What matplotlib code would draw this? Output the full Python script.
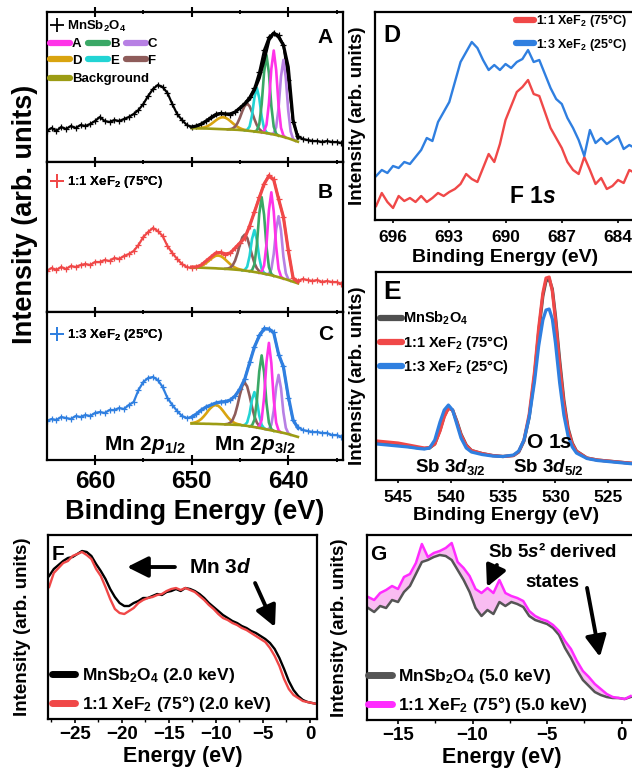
import numpy as np
import matplotlib
matplotlib.use("Agg")
import matplotlib.pyplot as plt
from matplotlib.lines import Line2D

plt.rcParams["font.family"] = ["Liberation Sans", "DejaVu Sans"]
plt.rcParams["font.weight"] = "bold"
plt.rcParams["axes.labelweight"] = "bold"
plt.rcParams["mathtext.fontset"] = "custom"
plt.rcParams["mathtext.rm"] = "Liberation Sans:bold"
plt.rcParams["mathtext.bf"] = "Liberation Sans:bold"
plt.rcParams["mathtext.it"] = "Liberation Sans:italic:bold"
plt.rcParams["mathtext.default"] = "bf"
plt.rcParams["axes.linewidth"] = 1.6

# ---------------- Mn 2p (panels A-C), intensity in arb. units ----------------
# measured spectra, 665 eV downwards in 0.5 eV steps
a_data = [31, 34, 31, 35, 33, 36, 34, 37, 36, 38, 41, 45, 41, 40, 42, 41, 43, 45, 48, 52,
          58, 66, 73, 77, 75, 69, 58, 48, 42, 37, 35, 36, 38, 41, 45, 48, 49, 48, 47, 50,
          54, 59, 65, 74, 90, 112, 125, 129, 127, 117, 82, 40, 26, 23, 22, 21, 21, 20, 21, 20,
          20, 19]
b_data = [41, 44, 42, 45, 43, 46, 45, 47, 48, 47, 50, 50, 52, 51, 54, 53, 56, 58, 61, 67,
          75, 80, 84, 81, 76, 66, 59, 53, 48, 45, 44, 45, 47, 51, 55, 59, 60, 57, 59, 64,
          69, 74, 86, 100, 115, 128, 137, 133, 113, 95, 62, 34, 31, 33, 32, 31, 32, 30, 31, 30,
          30, 28]
c_data = [39, 41, 40, 43, 42, 41, 44, 43, 45, 44, 47, 48, 47, 50, 50, 52, 51, 55, 58, 70,
          78, 82, 83, 80, 73, 62, 55, 49, 44, 42, 43, 46, 50, 53, 55, 57, 58, 58, 60, 64,
          71, 81, 98, 113, 125, 132, 131, 128, 105, 94, 62, 40, 33, 30, 29, 28, 28, 27, 27, 25,
          25, 23]

# fitted envelope, 650 eV downwards in 0.5 eV steps
a_env = [35, 36, 38, 41, 44, 47, 48.5, 48, 48, 50, 54, 58, 63, 72, 84, 102, 122, 129, 125, 117,
         95, 42, 24]
b_env = [45, 45, 47, 51, 55, 59, 59.5, 58, 59, 64, 69, 74, 86, 100, 114, 128, 136, 132, 113, 95,
         62, 34, 30]
c_env = [43, 46, 50, 53, 55, 57, 58, 58.5, 60, 64, 71, 81, 97, 113, 124, 131, 131, 127, 106, 93,
         64, 40, 32]

# Shirley background, 650 eV downwards in 0.25 eV steps
a_bg = [33.8, 33.8, 33.7, 33.7, 33.6, 33.5, 33.5, 33.4, 33.3, 33.2, 33.1, 33.0, 32.9, 32.8, 32.7,
        32.6, 32.5, 32.4, 32.3, 32.2, 32.0, 31.8, 31.6, 31.4, 31.1, 30.8, 30.5, 30.2, 29.9, 29.6,
        29.3, 28.9, 28.5, 28.0, 27.5, 27.0, 26.4, 25.8, 25.1, 24.4, 23.7, 22.9, 22.0, 21.1, 20.3]
b_bg = [44.7, 44.6, 44.5, 44.4, 44.3, 44.2, 44.1, 44.0, 43.9, 43.8, 43.7, 43.5, 43.4, 43.3, 43.1,
        43.0, 42.8, 42.6, 42.4, 42.2, 42.0, 41.7, 41.4, 41.1, 40.8, 40.4, 40.0, 39.6, 39.2, 38.8,
        38.3, 37.8, 37.3, 36.7, 36.1, 35.5, 34.8, 34.1, 33.4, 32.7, 31.9, 31.1, 30.3, 29.5, 28.7]
c_bg = [36.5, 36.5, 36.4, 36.4, 36.3, 36.3, 36.2, 36.2, 36.1, 36.0, 36.0, 35.9, 35.8, 35.7, 35.6,
        35.5, 35.4, 35.3, 35.2, 35.1, 35.0, 34.7, 34.4, 34.1, 33.7, 33.3, 32.9, 32.5, 32.0, 31.6,
        31.1, 30.6, 30.1, 29.6, 29.1, 28.6, 28.1, 27.6, 27.1, 26.5, 25.9, 25.2, 24.5, 23.8, 23.1]

# normalised peak shapes on the 0.25 eV grid
shape_narrow = [0.0, 0.017, 0.10, 0.36, 0.775, 1, 0.775, 0.36, 0.10, 0.017, 0.0]
shape_wide = [0.004, 0.014, 0.044, 0.114, 0.249, 0.458, 0.707, 0.917, 1, 0.917, 0.707, 0.458,
              0.249, 0.114, 0.044, 0.014, 0.004]
shape_broad = [0.021, 0.044, 0.085, 0.151, 0.249, 0.381, 0.54, 0.707, 0.857, 0.962, 1, 0.962,
               0.857, 0.707, 0.54, 0.381, 0.249, 0.151, 0.085, 0.044, 0.021]

# fitted components: centre (eV), height above background
a_peaks = {"A": (641.5, 84), "B": (642.25, 78), "C": (640.5, 77),
           "D": (646.75, 12), "E": (643.25, 44), "F": (644.25, 27)}
b_peaks = {"A": (641.75, 83), "B": (642.75, 76), "C": (641.0, 61),
           "D": (647.25, 13), "E": (643.5, 42), "F": (644.5, 36)}
c_peaks = {"A": (642.0, 87), "B": (642.75, 73), "C": (641.0, 57),
           "D": (647.5, 19), "E": (643.5, 35), "F": (644.5, 43)}

peak_shapes = {"A": shape_narrow, "B": shape_narrow, "C": shape_narrow,
               "D": shape_broad, "E": shape_narrow, "F": shape_wide}
peak_colors = {"A": "#ff33e8", "B": "#3aa866", "C": "#b780e4",
               "D": "#d9a40f", "E": "#22d4d4", "F": "#8e5c5a"}
bg_color = "#9c9c14"

# ---------------- F 1s (panel D) ----------------
d_be = 696.9 - 0.3 * np.arange(47)
d_red = [14, 27, 18, 12, 24, 19, 22, 18, 24, 18, 22, 27, 24, 28, 31, 36, 46, 41, 38, 52,
         66, 58, 76, 100, 114, 128, 133, 140, 126, 124, 108, 92, 82, 72, 58, 50, 46, 63, 50, 36,
         42, 31, 34, 40, 37, 50, 47]
d_blue = [44, 50, 47, 54, 52, 58, 56, 63, 70, 82, 79, 98, 108, 118, 138, 158, 168, 178, 172, 160,
          150, 155, 150, 156, 152, 158, 161, 170, 158, 160, 146, 132, 121, 116, 102, 92, 80, 64, 90, 77,
          82, 76, 80, 84, 71, 75, 72]

# ---------------- Sb 3d / O 1s (panel E) ----------------
e_be = [547.0, 546.0, 545.0, 544.0, 543.0, 542.5, 542.0, 541.5, 541.0, 540.6, 540.2, 539.8,
        539.4, 539.0, 538.5, 538.0, 537.0, 536.0, 535.0, 534.0, 533.5, 533.0, 532.5, 532.0,
        531.6, 531.2, 530.9, 530.6, 530.3, 530.0, 529.6, 529.2, 528.8, 528.4, 528.0, 527.0,
        526.0, 525.0, 524.0, 523.0, 522.4]
e_pristine = [37, 36, 35, 33.5, 32, 31.5, 32, 36, 50, 64, 72, 70, 59, 46, 35, 29.5, 26.5, 24.5,
              23.5, 24.5, 28, 39, 63, 104, 148, 184, 199, 201, 191, 164, 120, 80, 52, 37, 29, 22,
              20, 19, 18, 17, 16.5]
e_red = [39, 38, 37, 35, 33, 32, 32.5, 36, 49, 63, 72, 70, 58, 45, 34.5, 29.5, 26.5, 24.5,
         23.5, 24.5, 28.5, 40, 66, 108, 152, 187, 202, 203, 189, 160, 115, 76, 50, 36, 28.5, 22,
         20, 19, 18, 17, 16.5]
e_blue = [36, 35, 34, 33, 31.5, 31, 32, 40, 58, 70, 75, 70, 56, 42, 32, 28, 25.5, 24, 23.5,
          25, 29, 40, 63, 98, 134, 160, 170, 171, 161, 137, 97, 65, 44, 33, 27, 21.5, 19.5, 18.5,
          17.5, 16.5, 16]

# ---------------- valence band, 2.0 keV (panel F) ----------------
f_e = -27.75 + 0.5 * np.arange(58)
f_black = [143, 150, 154, 158, 161, 162, 165, 168, 167, 163, 155, 148, 140, 130, 122, 116, 113, 113,
           116, 118, 121, 121, 123, 125, 124, 127, 128, 130, 128, 131, 130, 128, 125, 121, 116, 112,
           108, 104, 101, 98, 96, 93, 91, 88, 86, 83, 80, 76, 70, 61, 50, 38, 29, 23, 19, 17, 16, 15]
f_red = [132, 146, 151, 156, 158, 163, 165, 167, 164, 160, 150, 143, 132, 120, 110, 106, 105, 108,
         111, 116, 119, 121, 122, 124, 125, 128, 130, 131, 129, 131, 129, 127, 123, 119, 114, 110,
         105, 101, 99, 96, 94, 91, 89, 86, 83, 80, 77, 71, 63, 53, 40, 30, 24, 21, 18, 17, 16, 15]

# ---------------- valence band, 5.0 keV (panel G) ----------------
g_e = -17.0 + 0.4 * np.arange(45)
g_gray = [112, 108, 114, 112, 120, 118, 128, 134, 146, 158, 160, 163, 165, 164, 160, 150, 140, 128,
          112, 104, 110, 106, 118, 114, 118, 116, 113, 104, 100, 98, 96, 92, 85, 72, 62, 50, 40, 34,
          28, 25, 23, 22, 22, 21, 23]
g_mag = [123, 120, 127, 130, 134, 131, 143, 146, 157, 176, 163, 167, 169, 172, 177, 158, 152, 144,
         131, 127, 132, 127, 140, 127, 124, 122, 119, 109, 104, 101, 99, 95, 89, 79, 71, 59, 49, 43,
         36, 31, 26, 23, 22, 21, 24]

RED = "#f04848"
BLUE = "#2f7fe0"

fig = plt.figure(figsize=(6.32, 7.70), dpi=100)

# ================= panels A, B, C =================
ax_a = fig.add_axes([0.0739, 0.7896, 0.4693, 0.1948])
ax_b = fig.add_axes([0.0739, 0.5948, 0.4693, 0.1948])
ax_c = fig.add_axes([0.0739, 0.4026, 0.4693, 0.1922])

mn_e = 665 - 0.5 * np.arange(len(a_data))
fit_e = 650 - 0.25 * np.arange(len(a_bg))
env_e = 650 - 0.5 * np.arange(len(a_env))

mn_panels = [
    (ax_a, a_data, a_env, a_bg, a_peaks, "black", "MnSb$_2$O$_4$", "A", 150, 0.907, 0.791),
    (ax_b, b_data, b_env, b_bg, b_peaks, RED, "1:1 XeF$_2$ (75°C)", "B", 150, 0.867, 0.76),
    (ax_c, c_data, c_env, c_bg, c_peaks, BLUE, "1:3 XeF$_2$ (25°C)", "C", 148, 0.845, 0.81),
]
for ax, data, env, bg, peaks, col, lab, letter, hpx, leg_y, let_y in mn_panels:
    ax.plot(mn_e, data, color=col, lw=1.6, marker="+", ms=5, mew=0.9, zorder=1)
    bg = np.array(bg)
    for name in ["D", "F", "E", "C", "B", "A"]:
        centre, height = peaks[name]
        shape = np.array(peak_shapes[name])
        ic = int(round((650 - centre) / 0.25))
        i0 = ic - len(shape) // 2
        lo, hi = max(i0, 0), min(i0 + len(shape), len(bg))
        ax.plot(fit_e[lo:hi], bg[lo:hi] + height * shape[lo - i0:hi - i0],
                color=peak_colors[name], lw=1.9, zorder=2)
    ax.plot(fit_e, bg, color=bg_color, lw=1.9, zorder=2)
    ax.plot(env_e, env, color=col, lw=2.3, zorder=3)
    ax.set_xlim(665, 634.3)
    ax.set_ylim(0, hpx)
    ax.set_yticks([])
    ax.set_xticks([660, 650, 640])
    ax.set_xticks([655, 645, 635], minor=True)
    ax.tick_params(axis="x", which="major", direction="inout", top=True, length=7, width=1.5,
                   labelsize=17.5, pad=4)
    ax.tick_params(axis="x", which="minor", direction="inout", top=True, length=3.5, width=1.3)
    leg = ax.legend(handles=[Line2D([], [], ls="none", marker="+", ms=10, mew=1.3, color=col)],
                    labels=[lab], loc="center left", bbox_to_anchor=(0.012, leg_y),
                    frameon=False, fontsize=9.5, handlelength=1.0, handletextpad=0.3,
                    borderpad=0, borderaxespad=0)
    ax.add_artist(leg)
    ax.text(0.965, let_y, letter, transform=ax.transAxes, ha="right", va="baseline",
            fontsize=15, fontweight="bold")

ax_a.tick_params(labelbottom=False)
ax_b.tick_params(labelbottom=False)

comp_order = ["A", "D", "B", "E", "C", "F"]
comp_leg = ax_a.legend(handles=[Line2D([], [], color=peak_colors[n], lw=4.5, solid_capstyle="round")
                                for n in comp_order],
                       labels=comp_order, ncol=3, loc="center left", bbox_to_anchor=(0.011, 0.73),
                       frameon=False, fontsize=9.5, handlelength=1.5, handletextpad=0.15,
                       columnspacing=0.5, labelspacing=0.35, borderpad=0, borderaxespad=0)
ax_a.add_artist(comp_leg)
ax_a.legend(handles=[Line2D([], [], color=bg_color, lw=4.5, solid_capstyle="round")],
            labels=["Background"], loc="center left", bbox_to_anchor=(0.011, 0.553),
            frameon=False, fontsize=9.5, handlelength=1.5, handletextpad=0.15,
            borderpad=0, borderaxespad=0)

ax_c.text(0.331, 0.068, r"Mn 2$\mathit{p_{1/2}}$", transform=ax_c.transAxes, ha="center",
          va="baseline", fontsize=15)
ax_c.text(0.703, 0.068, r"Mn 2$\mathit{p_{3/2}}$", transform=ax_c.transAxes, ha="center",
          va="baseline", fontsize=15)
ax_c.set_xlabel("Binding Energy (eV)", fontsize=19.5, labelpad=4)
fig.text(0.040, 0.721, "Intensity (arb. units)", rotation=90, ha="center", va="center",
         fontsize=19.5)

# ================= panel D =================
ax_d = fig.add_axes([0.5934, 0.7143, 0.413, 0.2701])
ax_d.plot(d_be, d_red, color=RED, lw=1.7, label="1:1 XeF$_2$ (75°C)")
ax_d.plot(d_be, d_blue, color=BLUE, lw=1.7, label="1:3 XeF$_2$ (25°C)")
ax_d.set_xlim(696.96, 683.04)
ax_d.set_ylim(0, 208)
ax_d.set_yticks([])
ax_d.set_xticks([696, 693, 690, 687, 684])
ax_d.tick_params(axis="x", length=2, width=1.2, labelsize=12.5, pad=5)
ax_d.set_xlabel("Binding Energy (eV)", fontsize=14, labelpad=3)
ax_d.set_ylabel("Intensity (arb. units)", fontsize=13.5)
ax_d.yaxis.set_label_coords(-0.036, 0.5)
ax_d.legend(loc="center right", bbox_to_anchor=(0.966, 0.901), frameon=False, fontsize=9,
            handlelength=1.45, handletextpad=0.15, labelspacing=0.5, borderpad=0,
            borderaxespad=0)
for h in ax_d.get_legend().legend_handles:
    h.set_linewidth(4.5)
    h.set_solid_capstyle("round")
ax_d.text(0.065, 0.857, "D", transform=ax_d.transAxes, ha="center", va="baseline", fontsize=17)
ax_d.text(0.605, 0.082, r"F 1$\mathit{s}$", transform=ax_d.transAxes, ha="center",
          va="baseline", fontsize=16.5)

# ================= panel E =================
ax_e = fig.add_axes([0.5949, 0.3766, 0.4114, 0.2701])
ax_e.plot(e_be, e_pristine, color="#505050", lw=2.3, label="MnSb$_2$O$_4$")
ax_e.plot(e_be, e_red, color=RED, lw=2.3, label="1:1 XeF$_2$ (75°C)")
ax_e.plot(e_be, e_blue, color=BLUE, lw=2.3, label="1:3 XeF$_2$ (25°C)")
ax_e.set_xlim(547.1, 522.33)
ax_e.set_ylim(0, 208)
ax_e.set_yticks([])
ax_e.set_xticks([545, 540, 535, 530, 525])
ax_e.tick_params(axis="x", length=2, width=1.2, labelsize=12.5, pad=5)
ax_e.set_xlabel("Binding Energy (eV)", fontsize=14, labelpad=1.5)
ax_e.set_ylabel("Intensity (arb. units)", fontsize=13.5)
ax_e.yaxis.set_label_coords(-0.04, 0.5)
ax_e.legend(loc="center left", bbox_to_anchor=(0.015, 0.659), frameon=False, fontsize=10.5,
            handlelength=1.5, handletextpad=0.1, labelspacing=0.45, borderpad=0,
            borderaxespad=0)
for h in ax_e.get_legend().legend_handles:
    h.set_linewidth(4.5)
    h.set_solid_capstyle("round")
ax_e.text(0.062, 0.87, "E", transform=ax_e.transAxes, ha="center", va="baseline", fontsize=19)
ax_e.text(0.665, 0.154, r"O 1$\mathit{s}$", transform=ax_e.transAxes, ha="center",
          va="baseline", fontsize=15)
ax_e.text(0.285, 0.04, r"Sb 3$\mathit{d_{3/2}}$", transform=ax_e.transAxes, ha="center",
          va="baseline", fontsize=13.5)
ax_e.text(0.662, 0.04, r"Sb 3$\mathit{d_{5/2}}$", transform=ax_e.transAxes, ha="center",
          va="baseline", fontsize=13.5)

# ================= panel F =================
ax_f = fig.add_axes([0.0759, 0.0662, 0.4256, 0.239])
ax_f.text(0.015, 0.864, "F", transform=ax_f.transAxes, ha="left", va="baseline", fontsize=15,
          zorder=0)
ax_f.plot(f_e, f_black, color="black", lw=1.7, label="MnSb$_2$O$_4$ (2.0 keV)")
ax_f.plot(f_e, f_red, color=RED, lw=1.7, label="1:1 XeF$_2$ (75°) (2.0 keV)")
ax_f.set_xlim(-27.87, 0.745)
ax_f.set_ylim(0, 184)
ax_f.set_yticks([])
ax_f.set_xticks([-25, -20, -15, -10, -5, 0])
ax_f.set_xticks([-27.5, -22.5, -17.5, -12.5, -7.5, -2.5], minor=True)
ax_f.tick_params(axis="x", which="major", length=3, width=1.2, labelsize=13.5, pad=2)
ax_f.tick_params(axis="x", which="minor", length=2, width=1.0)
ax_f.set_xlabel("Energy (eV)", fontsize=15.5, labelpad=2.5)
ax_f.set_ylabel("Intensity (arb. units)", fontsize=13.5)
ax_f.yaxis.set_label_coords(-0.063, 0.5)
ax_f.legend(loc="center left", bbox_to_anchor=(0.015, 0.158), frameon=False, fontsize=12.5,
            handlelength=1.35, handletextpad=0.35, labelspacing=0.5, borderpad=0,
            borderaxespad=0)
for h in ax_f.get_legend().legend_handles:
    h.set_linewidth(5)
    h.set_solid_capstyle("round")
ax_f.text(0.639, 0.793, r"Mn 3$\mathit{d}$", transform=ax_f.transAxes, ha="center",
          va="baseline", fontsize=15)
arrow = dict(arrowstyle="-|>,head_length=0.9,head_width=0.45", lw=2.8, color="black",
             shrinkA=0, shrinkB=0, mutation_scale=14)
ax_f.annotate("", xy=(0.294, 0.826), xytext=(0.472, 0.826), xycoords="axes fraction",
              arrowprops=arrow)
ax_f.annotate("", xy=(0.844, 0.50), xytext=(0.770, 0.739), xycoords="axes fraction",
              arrowprops=arrow)

# ================= panel G =================
ax_g = fig.add_axes([0.5807, 0.0649, 0.4256, 0.2403])
g_gray_a = np.array(g_gray)
g_mag_a = np.array(g_mag)
ax_g.fill_between(g_e, g_gray_a, g_mag_a, where=g_mag_a > g_gray_a, interpolate=True,
                  color="#f7a6ee", alpha=0.75, lw=0)
ax_g.plot(g_e, g_gray, color="#555555", lw=1.8, label="MnSb$_2$O$_4$ (5.0 keV)")
ax_g.plot(g_e, g_mag, color="#ff2bff", lw=1.8, label="1:1 XeF$_2$ (75°) (5.0 keV)")
ax_g.set_xlim(-17.08, 0.96)
ax_g.set_ylim(0, 185)
ax_g.set_yticks([])
ax_g.set_xticks([-15, -10, -5, 0])
ax_g.set_xticks([-12.5, -7.5, -2.5], minor=True)
ax_g.tick_params(axis="x", which="major", length=3, width=1.2, labelsize=13.5, pad=2)
ax_g.tick_params(axis="x", which="minor", length=2, width=1.0)
ax_g.set_xlabel("Energy (eV)", fontsize=15.5, labelpad=2.5)
ax_g.set_ylabel("Intensity (arb. units)", fontsize=13.5)
ax_g.yaxis.set_label_coords(-0.07, 0.5)
ax_g.legend(loc="center left", bbox_to_anchor=(0.004, 0.158), frameon=False, fontsize=12.5,
            handlelength=1.35, handletextpad=0.35, labelspacing=0.5, borderpad=0,
            borderaxespad=0)
for h in ax_g.get_legend().legend_handles:
    h.set_linewidth(5)
    h.set_solid_capstyle("round")
ax_g.text(0.011, 0.865, "G", transform=ax_g.transAxes, ha="left", va="baseline", fontsize=15)
ax_g.text(0.688, 0.881, r"Sb 5$\mathit{s}$² derived", transform=ax_g.transAxes, ha="center",
          va="baseline", fontsize=13.5)
ax_g.text(0.688, 0.719, "states", transform=ax_g.transAxes, ha="center", va="baseline",
          fontsize=13.5)
ax_g.annotate("", xy=(0.446, 0.719), xytext=(0.483, 0.838), xycoords="axes fraction",
              arrowprops=arrow)
ax_g.annotate("", xy=(0.866, 0.341), xytext=(0.818, 0.714), xycoords="axes fraction",
              arrowprops=arrow)

fig.savefig("out.png", dpi=100)
